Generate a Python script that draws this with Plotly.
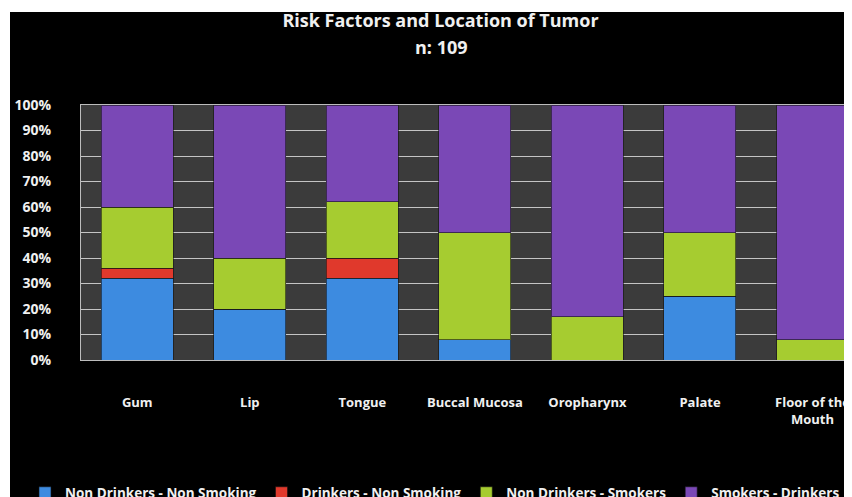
import plotly.graph_objects as go

categories = ["Gum", "Lip", "Tongue", "Buccal Mucosa", "Oropharynx", "Palate", "Floor of the<br>Mouth"]
non_drinkers_non_smoking = [32, 20, 32, 8, 0, 25, 0]
drinkers_non_smoking = [4, 0, 8, 0, 0, 0, 0]
non_drinkers_smokers = [24, 20, 22, 42, 17, 25, 8]
smokers_drinkers = [40, 60, 38, 50, 83, 50, 92]
series_names = ["Non Drinkers - Non Smoking", "Drinkers - Non Smoking",
                "Non Drinkers - Smokers", "Smokers - Drinkers"]
y_ticks = [0, 10, 20, 30, 40, 50, 60, 70, 80, 90, 100]
y_ticklabels = [f"{v}%" for v in y_ticks]

colors = ["#3d8be0", "#e0392c", "#a6cc30", "#7a48b6"]
series = [non_drinkers_non_smoking, drinkers_non_smoking, non_drinkers_smokers, smokers_drinkers]

# page body has an 8px margin; lay the figure out in reference coordinates shifted by OFF
OFF = 8
W, H = 852 - OFF, 497 - OFF
L, T = 81 - OFF, 105 - OFF
R = 2
B = H - (360 - OFF)
pw, ph = W - L - R, H - T - B

FONT = "Open Sans"

fig = go.Figure()
for name, vals, col in zip(series_names, series, colors):
    fig.add_trace(go.Bar(
        x=categories, y=vals, name=name,
        marker=dict(color=col, line=dict(color="rgba(20,20,20,0.6)", width=1)),
    ))

fig.update_layout(
    width=W, height=H,
    barmode="stack", bargap=0.36,
    paper_bgcolor="black", plot_bgcolor="#3b3b3b",
    margin=dict(l=L, r=R, t=T, b=B, autoexpand=False),
    title=dict(text="Risk Factors and Location of Tumor",
               font=dict(family=FONT, size=18, color="#f0f0f0", weight="bold"),
               x=(440.5 - OFF) / W, xanchor="center", xref="container",
               y=1 - (21 - OFF) / H, yanchor="middle", yref="container"),
    showlegend=True,
    legend=dict(orientation="h", traceorder="normal",
                x=(25 - OFF - L) / pw, xanchor="left",
                y=-(493 - 360) / ph, yanchor="middle",
                font=dict(family=FONT, size=13.5, color="#f0f0f0", weight="bold"),
                bgcolor="rgba(0,0,0,0)", itemwidth=30),
    xaxis=dict(range=[-0.5, 6.333], showgrid=False, ticks="",
               tickfont=dict(family=FONT, size=13, color="#f0f0f0", weight="bold"),
               ticklabelstandoff=30,
               showline=True, linecolor="#bdbdbd", linewidth=1, mirror=True),
    yaxis=dict(range=[0, 100], tickvals=y_ticks, ticktext=y_ticklabels,
               showgrid=True, gridcolor="#c4c4c4", gridwidth=1, ticks="",
               tickfont=dict(family=FONT, size=14, color="#f0f0f0", weight="bold"),
               ticklabelstandoff=26, zeroline=False,
               showline=True, linecolor="#bdbdbd", linewidth=1, mirror=True),
    annotations=[dict(text="n: 109", xref="paper", yref="paper",
                      x=(441 - OFF - L) / pw, y=1 + (105 - 47) / ph,
                      xanchor="center", yanchor="middle", showarrow=False,
                      font=dict(family=FONT, size=18, color="#f0f0f0", weight="bold"))],
    shapes=[
        dict(type="rect", xref="paper", yref="paper", layer="above",
             x0=-L / pw - 0.01, x1=1 + R / pw + 0.01,
             y0=1 + (T - (12 - OFF)) / ph, y1=1 + T / ph + 0.01,
             fillcolor="white", line=dict(width=0)),
        dict(type="rect", xref="paper", yref="paper", layer="above",
             x0=-L / pw - 0.01, x1=(10 - OFF - L) / pw,
             y0=-B / ph - 0.01, y1=1 + T / ph + 0.01,
             fillcolor="white", line=dict(width=0)),
    ],
)

fig.write_html("out.html")
